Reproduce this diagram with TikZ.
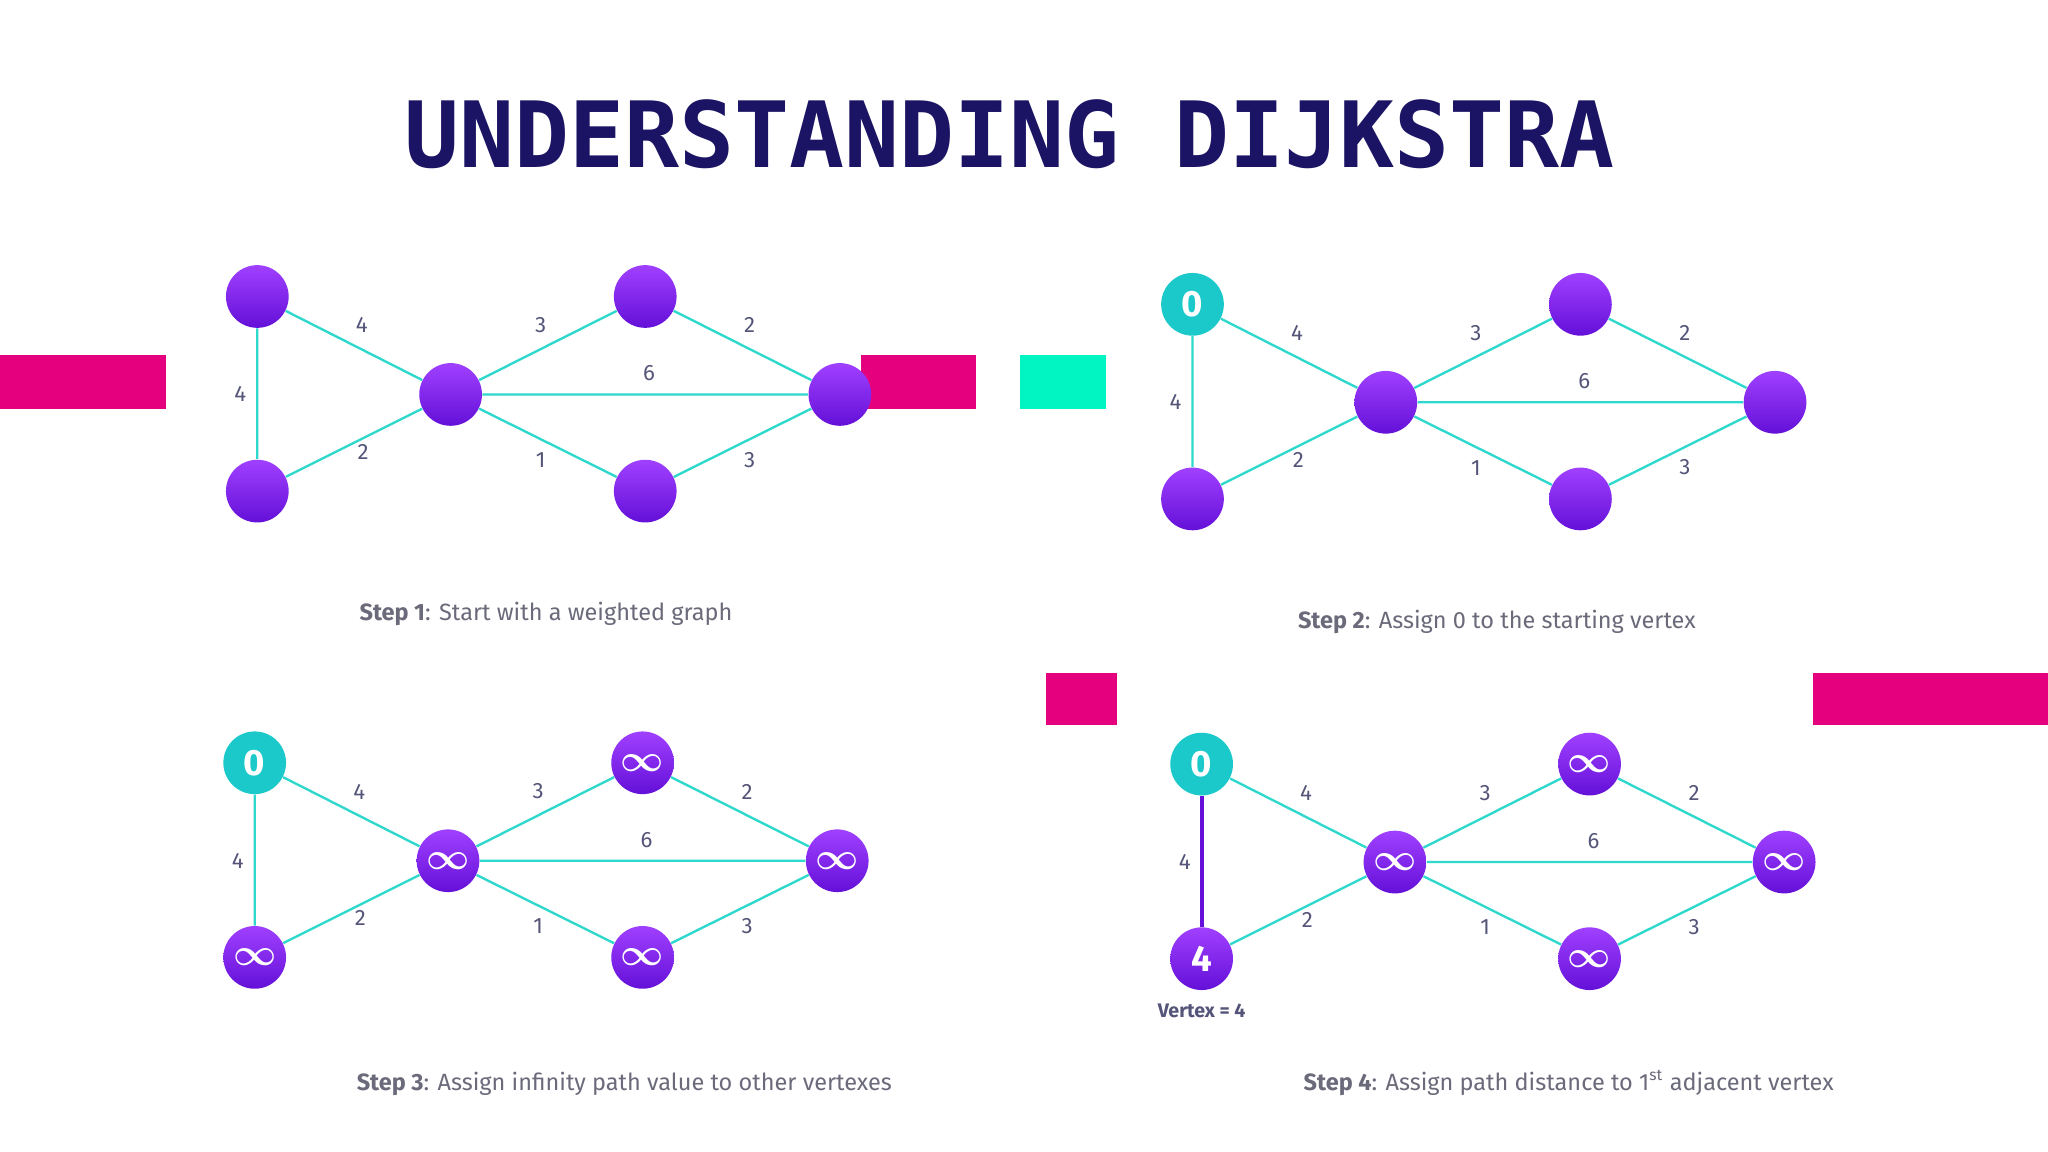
\documentclass[tikz,border=0pt]{standalone}
\usepackage{amsmath}
\usepackage{fontspec}
\setmainfont{Fira Sans}
\newfontfamily\titlefont{DejaVu Sans Mono}
\definecolor{navy}{HTML}{1B1464}
\definecolor{pinkc}{HTML}{E5007D}
\definecolor{tealr}{HTML}{00F5C3}
\definecolor{edgec}{HTML}{2ED8CC}
\definecolor{ptop}{HTML}{A040FF}
\definecolor{pbot}{HTML}{6410D8}
\definecolor{tnode}{HTML}{1BC9CB}
\definecolor{lblc}{HTML}{55557A}
\definecolor{capc}{HTML}{6A6A7A}
\tikzset{
 pnode/.style={circle,minimum size=24pt,inner sep=0pt,top color=ptop,bottom color=pbot,draw=none,text=white,font=\bfseries\fontsize{14}{14}\selectfont},
 tnodes/.style={circle,minimum size=24pt,inner sep=0pt,fill=tnode,draw=none,text=white,font=\bfseries\fontsize{14}{14}\selectfont},
 edge/.style={draw=edgec,line width=0.9pt},
 wl/.style={text=lblc,font=\fontsize{8.5}{9}\selectfont},
 captext/.style={text=capc,font=\fontsize{9}{10}\selectfont},
 bar/.style={fill=pinkc,draw=none}
}
\newcommand\infs{$\boldsymbol{\infty}$}
% #1 prefix #2 dx #3 dy #4 A style #5 A text #6 B text #7 other text
\newcommand\onegraph[7]{%
\begin{scope}[shift={(#2,#3)}]
 \node[#4] (#1A) at (197,227) {#5};
 \node[pnode] (#1B) at (197,376) {#6};
 \node[pnode] (#1C) at (345,302) {#7};
 \node[pnode] (#1D) at (494,227) {#7};
 \node[pnode] (#1E) at (494,376) {#7};
 \node[pnode] (#1F) at (643,302) {#7};
 \draw[edge] (#1A)--(#1C) (#1B)--(#1C) (#1A)--(#1B) (#1C)--(#1D) (#1C)--(#1F) (#1C)--(#1E) (#1D)--(#1F) (#1E)--(#1F);
 \node[wl] (#1w1) at (277,249) {4};
 \node[wl] (#1w2) at (184,302) {4};
 \node[wl] (#1w3) at (278,346) {2};
 \node[wl] (#1w4) at (414,249) {3};
 \node[wl] (#1w5) at (497,286) {6};
 \node[wl] (#1w6) at (414,352) {1};
 \node[wl] (#1w7) at (574,249) {2};
 \node[wl] (#1w8) at (574,352) {3};
\end{scope}}
\begin{document}
\begin{tikzpicture}[x=0.5pt,y=-0.5pt]
\useasboundingbox[fill=white] (0,0) rectangle (1568,882);
\fill[bar] (0,272) rectangle (127,313);
\fill[bar] (659,272) rectangle (747,313);
\fill[fill=tealr] (781,272) rectangle (847,313);
\fill[bar] (801,515) rectangle (855,555);
\fill[bar] (1388,515) rectangle (1568,555);
\node[text=navy,font=\titlefont\bfseries\fontsize{35}{36}\selectfont] (title) at (773,103) {UNDERSTANDING DIJKSTRA};
\onegraph{g1}{0}{0}{pnode}{}{}{}
\onegraph{g2}{716}{6}{tnodes}{0}{}{}
\onegraph{g3}{-2}{357}{tnodes}{0}{\infs}{\infs}
\onegraph{g4}{723}{358}{tnodes}{0}{4}{\infs}
\draw[draw=pbot,line width=1.6pt] (g4A)--(g4B);
\node[text=lblc,font=\bfseries\fontsize{7.5}{8}\selectfont] (vx) at (920,774) {Vertex = 4};
\node[captext] (c1) at (418,470) {\textbf{Step 1}: Start with a weighted graph};
\node[captext] (c2) at (1146,476) {\textbf{Step 2}: Assign 0 to the starting vertex};
\node[captext] (c3) at (478,830) {\textbf{Step 3}: Assign infinity path value to other vertexes};
\node[captext] (c4) at (1201,829) {\textbf{Step 4}: Assign path distance to 1\textsuperscript{st} adjacent vertex};
\end{tikzpicture}
\end{document}
